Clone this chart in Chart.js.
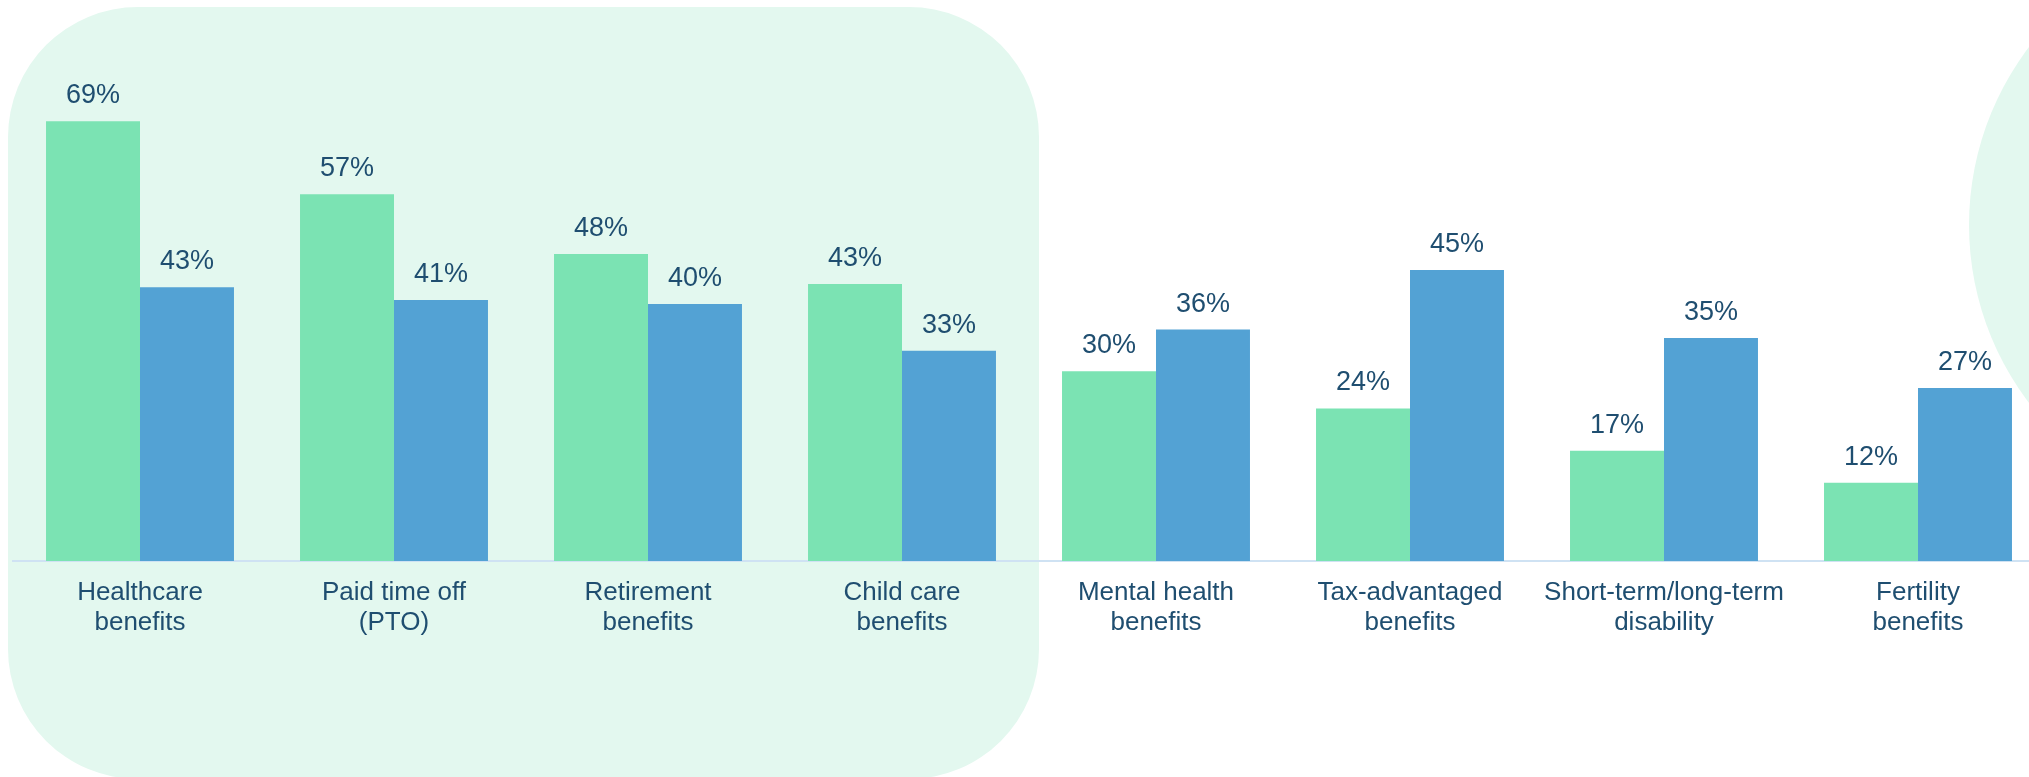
<!DOCTYPE html>
<html>
<head>
<meta charset="utf-8">
<script src="https://cdn.jsdelivr.net/npm/chart.js@4/dist/chart.umd.min.js"></script>
<style>
  html, body { margin: 0; padding: 0; background: #ffffff; overflow: hidden; width: 2029px; height: 777px; }
  .panel { position: absolute; left: 8px; top: 7px; width: 1031px; height: 772px; background: #e3f8ef; border-radius: 130px; }
  .circle { position: absolute; left: 1969px; top: -69px; width: 588px; height: 588px; background: #e3f8ef; border-radius: 50%; }
  #wrap { position: absolute; left: 0; top: 0; width: 2060px; height: 777px; }
</style>
</head>
<body>
<div class="panel"></div>
<div class="circle"></div>
<div id="wrap"><canvas id="c" width="2060" height="777"></canvas></div>
<script>
const categories = [
  ["Healthcare", "benefits"],
  ["Paid time off", "(PTO)"],
  ["Retirement", "benefits"],
  ["Child care", "benefits"],
  ["Mental health", "benefits"],
  ["Tax-advantaged", "benefits"],
  ["Short-term/long-term", "disability"],
  ["Fertility", "benefits"]
];
const seriesGreen = [68.6, 57.2, 47.9, 43.2, 29.6, 23.8, 17.2, 12.2];
const seriesBlue  = [42.7, 40.7, 40.1, 32.8, 36.1, 45.4, 34.8, 27.0];
const seriesNames = ["Series A", "Series B"];

const textColor = "#1f4e70";
const fontFamily = "'Liberation Sans', Arial, sans-serif";

const valueLabels = {
  id: "valueLabels",
  afterDatasetsDraw(chart) {
    const ctx = chart.ctx;
    ctx.save();
    ctx.font = "27px " + fontFamily;
    ctx.fillStyle = textColor;
    ctx.textAlign = "center";
    ctx.textBaseline = "alphabetic";
    chart.data.datasets.forEach((ds, di) => {
      const meta = chart.getDatasetMeta(di);
      meta.data.forEach((bar, i) => {
        ctx.fillText(Math.round(ds.data[i]) + "%", bar.x, bar.y - 18);
      });
    });
    ctx.restore();
  }
};

new Chart(document.getElementById("c"), {
  type: "bar",
  data: {
    labels: categories,
    datasets: [
      { label: seriesNames[0], data: seriesGreen, backgroundColor: "#7be3b3", barPercentage: 1, categoryPercentage: 0.74 },
      { label: seriesNames[1], data: seriesBlue, backgroundColor: "#53a2d4", barPercentage: 1, categoryPercentage: 0.74 }
    ]
  },
  options: {
    responsive: false,
    animation: false,
    devicePixelRatio: 1,
    layout: { padding: { left: 13, right: 15, top: 20, bottom: 0 } },
    plugins: { legend: { display: false }, tooltip: { enabled: false } },
    scales: {
      y: { display: false, min: 0, max: 84.4 },
      x: {
        grid: { display: false, drawTicks: false },
        border: { display: true, color: "#cfe2f3", width: 2 },
        ticks: {
          color: textColor,
          font: { family: fontFamily, size: 26, lineHeight: 1.15 },
          padding: 17,
          maxRotation: 0,
          autoSkip: false
        },
        afterFit(scale) { scale.height = 216; }
      }
    }
  },
  plugins: [valueLabels]
});
</script>
</body>
</html>
